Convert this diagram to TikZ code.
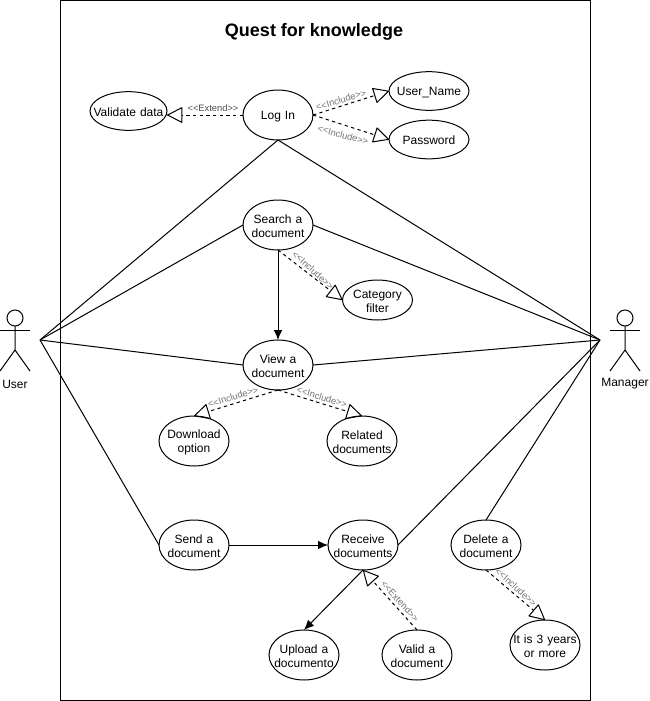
\documentclass[tikz,border=0pt]{standalone}
\usepackage{fontspec}
\setmainfont{Liberation Sans}
\usetikzlibrary{shapes.geometric,arrows.meta}

\tikzset{
	usecase/.style={ellipse, draw, line width=0.75pt, outer sep=0pt, align=center,
		text width=60pt, inner xsep=-30pt, inner ysep=-20pt,
		minimum width=52.5pt, minimum height=37.5pt,
		execute at begin node={\rule{0pt}{8pt}},
		font=\fontsize{9}{10.5}\selectfont},
	tag/.style={font=\fontsize{7}{8}\selectfont, text=black!55, inner sep=0pt},
	link/.style={line width=0.75pt},
	flow/.style={line width=0.75pt, -{Latex[length=7.5pt,width=6.5pt]}},
	dep/.style={line width=0.75pt, dashed, dash pattern=on 2.5pt off 2.5pt,
		-{Triangle[open,length=12pt,width=12pt,line width=0.75pt,round=false]}}
}

\begin{document}
\begin{tikzpicture}[x=0.75pt,y=-0.75pt]
	\useasboundingbox (0,0) rectangle (650,701);
	\draw [line width=0.75pt] (60,0) rectangle (590,700);
	\node [font=\fontsize{13.5}{16}\selectfont\bfseries] (title) at (314,31.5) {Quest for knowledge};

	% actors
	\foreach \name/\ax/\lbl in {user/15/User,manager/625/Manager}{
		\draw [line width=0.75pt] (\ax,318) circle (8);
		\draw [line width=0.75pt] (\ax,326) -- (\ax,350) -- (\ax-15,371);
		\draw [line width=0.75pt] (\ax,350) -- (\ax+15,371);
		\draw [line width=0.75pt] (\ax-15,330) -- (\ax+15,330);
		\node [font=\fontsize{9}{10.5}\selectfont] (\name) at (\ax,384) {\lbl};
	}
	\coordinate (userpt) at (40,340);
	\coordinate (managerpt) at (600,340);

	% use cases
	\node [usecase] (login) at (278,115) {Log In};
	\node [usecase, minimum width=57.75pt, minimum height=29pt] (validate) at (128.5,111) {Validate data};
	\node [usecase, minimum width=60pt, minimum height=29pt] (username) at (429,91) {User\_Name};
	\node [usecase, minimum width=60pt, minimum height=29pt] (password) at (429,139.5) {Password};
	\node [usecase] (search) at (278,225) {Search a\\document};
	\node [usecase, minimum height=30pt] (category) at (377.5,300) {Category\\filter};
	\node [usecase] (view) at (278,365) {View a\\document};
	\node [usecase] (download) at (194,441) {Download\\option};
	\node [usecase] (related) at (362,441) {Related\\documents};
	\node [usecase] (send) at (194,545) {Send a\\document};
	\node [usecase] (receive) at (363,545) {Receive\\documents};
	\node [usecase] (delete) at (486,545) {Delete a\\document};
	\node [usecase] (upload) at (304,655) {Upload a\\documento};
	\node [usecase] (valid) at (417,655) {Valid a\\document};
	\node [usecase] (years) at (545,645) {It is 3 years\\or more};

	% actor links
	\draw [link] (userpt) -- (login.south);
	\draw [link] (userpt) -- (search.west);
	\draw [link] (userpt) -- (view.west);
	\draw [link] (userpt) -- (send.west);
	\draw [link] (managerpt) -- (login.south);
	\draw [link] (managerpt) -- (search.east);
	\draw [link] (managerpt) -- (view.east);
	\draw [link] (managerpt) -- (receive.east);
	\draw [link] (managerpt) -- (delete.north);

	% flows
	\draw [flow] (search.south) -- (view.north);
	\draw [flow] (send.east) -- (receive.west);
	\draw [flow] (receive.south) -- (upload.north);

	% dependencies
	\draw [dep] (login.west) -- (login.west -| validate.east);
	\draw [dep] (login.east) -- (username.west);
	\draw [dep] (login.east) -- (password.west);
	\draw [dep] (search.south) -- (category.west);
	\draw [dep] (view.south) -- (download.north);
	\draw [dep] (view.south) -- (related.north);
	\draw [dep] (valid.north) -- (receive.south);
	\draw [dep] (delete.south) -- (years.north);

	% stereotypes
	\node [tag, text=black!70] (tagvalidate) at (213,108) {<{}<Extend>{}>};
	\node [tag, rotate=17] (taguser) at (341,100) {<{}<Include>{}>};
	\node [tag, rotate=-15] (tagpass) at (343,135) {<{}<Include>{}>};
	\node [tag, rotate=-42] (tagcategory) at (313,270) {<{}<Include>{}>};
	\node [tag, rotate=17] (tagdownload) at (233,397) {<{}<Include>{}>};
	\node [tag, rotate=-17] (tagrelated) at (322,397) {<{}<Include>{}>};
	\node [tag, rotate=-48] (tagvalid) at (400,601) {<{}<Extend>{}>};
	\node [tag, rotate=-42] (tagyears) at (516,587) {<{}<Include>{}>};
\end{tikzpicture}
\end{document}
